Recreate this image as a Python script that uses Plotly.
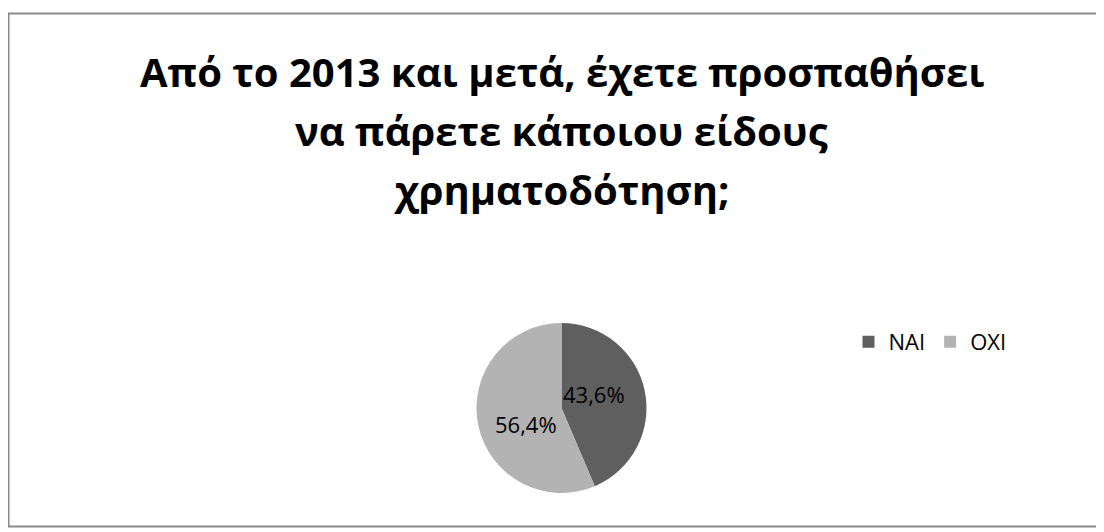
import plotly.graph_objects as go

categories = ["NAI", "OXI"]
values = [43.6, 56.4]
colors = ["#5f5f5f", "#b3b3b3"]
title_lines = [
    "Από το 2013 και μετά, έχετε προσπαθήσει",
    "να πάρετε κάποιου είδους",
    "χρηματοδότηση;",
]

# The page body has an 8px margin, so the figure is offset by 8px.
OFF = 8
W, H = 1104 - OFF, 532 - OFF


def fx(x):
    return (x - OFF) / W


def fy(y):
    return 1 - (y - OFF) / H


cx, cy, r = 561.5, 408, 85

fig = go.Figure(go.Pie(
    labels=categories,
    values=values,
    marker=dict(colors=colors, line=dict(width=0)),
    sort=False,
    direction="clockwise",
    rotation=0,
    textinfo="none",
    domain=dict(x=[fx(cx - r), fx(cx + r)], y=[fy(cy + r), fy(cy - r)]),
    hoverinfo="label+percent",
))

# percentage labels (best-fit positions as in the reference)
label_pos = [(594, 394), (526, 424)]
total = sum(values)
for v, (lx, ly) in zip(values, label_pos):
    fig.add_annotation(
        text=f"{100 * v / total:.1f}".replace(".", ",") + "%",
        x=fx(lx), y=fy(ly), xref="paper", yref="paper",
        showarrow=False, xanchor="center", yanchor="middle",
        font=dict(family="Open Sans", size=22, color="#000000"),
    )

title_y = [71, 130, 189]
for line, y in zip(title_lines, title_y):
    fig.add_annotation(
        text=line, x=fx(561.5), y=fy(y), xref="paper", yref="paper",
        showarrow=False, xanchor="center", yanchor="middle",
        font=dict(family="Open Sans", size=40, color="#000000", weight="bold"),
    )

fig.add_shape(type="rect", xref="paper", yref="paper",
              x0=fx(8.5), x1=fx(1100.5), y0=fy(526.5), y1=fy(13.5),
              line=dict(color="#8a8a8a", width=2))

fig.update_layout(
    width=W, height=H,
    margin=dict(l=0, r=0, t=0, b=0),
    paper_bgcolor="#ffffff",
    plot_bgcolor="#ffffff",
    showlegend=True,
    legend=dict(
        orientation="h", x=fx(848.5), y=fy(342), xanchor="left", yanchor="middle",
        font=dict(family="Open Sans", size=22, color="#000000"),
        traceorder="normal", bgcolor="rgba(0,0,0,0)", itemwidth=30,
    ),
)

fig.write_html("out.html")
